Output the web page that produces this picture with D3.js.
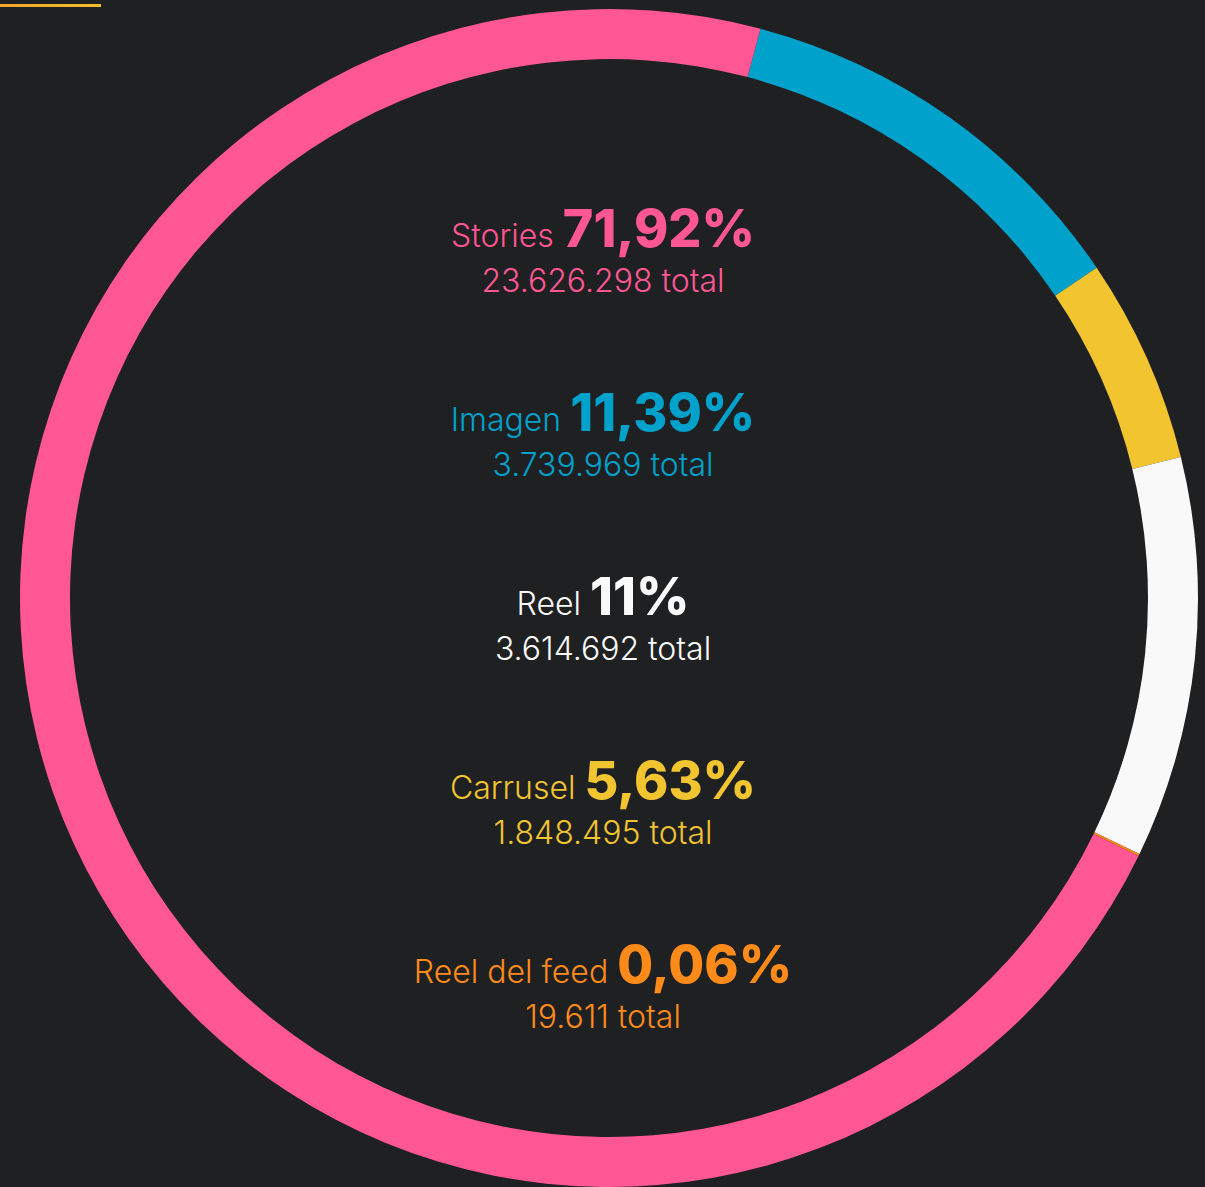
<!DOCTYPE html>
<html>
<head>
<meta charset="utf-8">
<script src="https://cdn.jsdelivr.net/npm/d3@7"></script>
<style>
  html, body { margin: 0; padding: 0; background: #1f2022; }
  svg { display: block; }
</style>
</head>
<body>
<svg id="canvas"></svg>
<script>
// data, in the order the labels are listed in the middle
const categories = ["Stories", "Imagen", "Reel", "Carrusel", "Reel del feed"]
const totals = [23626298, 3739969, 3614692, 1848495, 19611]
const colors = ["#fe5793", "#00a2cc", "#f9f9f9", "#f1c430", "#fe8a19"]
// clockwise order of the slices on the ring
const ringOrder = ["Imagen", "Carrusel", "Reel", "Reel del feed", "Stories"]

const width = 1205
const height = 1187
const cx = 609
const cy = 598
const outerR = 589
const innerR = 539
const startDeg = 14.9

const locale = d3.formatLocale({ decimal: ",", thousands: ".", grouping: [3], currency: ["", ""] })
const fmtPct = locale.format(".2~f")
const fmtTotal = locale.format(",d")

const sum = d3.sum(totals)
const rows = categories.map((c, i) => ({ name: c, total: totals[i], color: colors[i] }))

const canvas = d3.select("#canvas")
  .attr("width", width)
  .attr("height", height)

// little accent bar top-left
const defs = canvas.append("defs")
const grad = defs.append("linearGradient").attr("id", "accent")
grad.append("stop").attr("offset", "0%").attr("stop-color", "#f4a52a")
grad.append("stop").attr("offset", "100%").attr("stop-color", "#f2bd2e")
canvas.append("rect")
  .attr("x", 0).attr("y", 4)
  .attr("width", 101).attr("height", 3)
  .attr("fill", "url(#accent)")

const pie = d3.pie()
  .sort(null)
  .value(d => d.total)
  .startAngle(startDeg * Math.PI / 180)
  .endAngle(startDeg * Math.PI / 180 + 2 * Math.PI)

const arc = d3.arc()
  .innerRadius(innerR)
  .outerRadius(outerR)

const ringData = ringOrder.map(n => rows.find(r => r.name === n))

canvas.append("g")
  .attr("transform", `translate(${cx}, ${cy})`)
  .selectAll("path")
  .data(pie(ringData))
  .enter()
  .append("path")
  .attr("d", arc)
  .attr("fill", d => d.data.color)

// labels in the middle
const rowY = d3.scalePoint()
  .domain(categories)
  .range([247, 983])

const labels = canvas.append("g")
  .attr("font-family", "Inter, 'Noto Sans', sans-serif")
  .attr("text-anchor", "middle")

rows.forEach(r => {
  const y = rowY(r.name)
  const t = labels.append("text")
    .attr("x", 603)
    .attr("y", y)
    .attr("fill", r.color)
  t.append("tspan")
    .attr("font-size", 32)
    .attr("font-weight", 300)
    .text(r.name + " ")
  t.append("tspan")
    .attr("font-size", 52)
    .attr("font-weight", 800)
    .text(fmtPct(r.total / sum * 100) + "%")

  labels.append("text")
    .attr("x", 603)
    .attr("y", y + 45)
    .attr("fill", r.color)
    .attr("font-size", 32)
    .attr("font-weight", 300)
    .text(fmtTotal(r.total) + " total")
})
</script>
</body>
</html>
